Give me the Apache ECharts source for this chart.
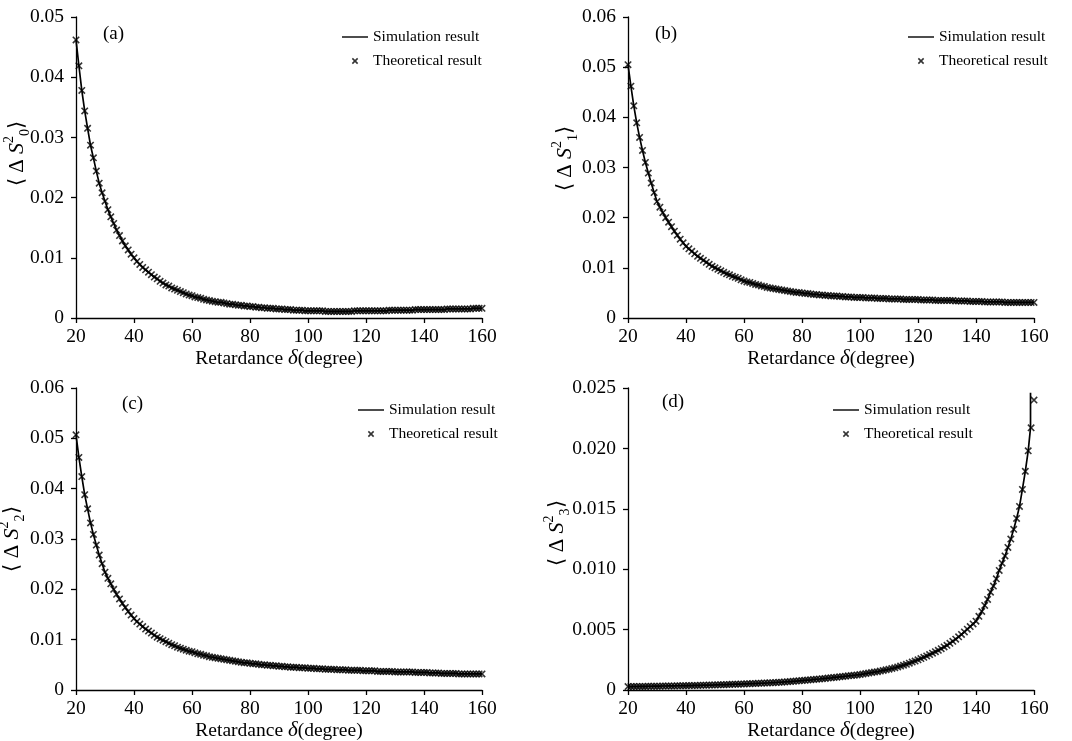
<!DOCTYPE html>
<html>
<head>
<meta charset="utf-8">
<script src="https://cdn.jsdelivr.net/npm/echarts@6/dist/echarts.min.js"></script>
<style>
  html, body { margin: 0; padding: 0; background: #fff; }
  #main { width: 1072px; height: 741px; }
</style>
</head>
<body>
<div id="main"></div>
<script>
// retardance samples (degree)
var delta = [
  20, 21, 22, 23, 24, 25, 26, 27, 28, 29,
  30, 31, 32, 33, 34, 35, 36, 37, 38, 39,
  40, 41, 42, 43, 44, 45, 46, 47, 48, 49,
  50, 51, 52, 53, 54, 55, 56, 57, 58, 59,
  60, 61, 62, 63, 64, 65, 66, 67, 68, 69,
  70, 71, 72, 73, 74, 75, 76, 77, 78, 79,
  80, 81, 82, 83, 84, 85, 86, 87, 88, 89,
  90, 91, 92, 93, 94, 95, 96, 97, 98, 99,
  100, 101, 102, 103, 104, 105, 106, 107, 108, 109,
  110, 111, 112, 113, 114, 115, 116, 117, 118, 119,
  120, 121, 122, 123, 124, 125, 126, 127, 128, 129,
  130, 131, 132, 133, 134, 135, 136, 137, 138, 139,
  140, 141, 142, 143, 144, 145, 146, 147, 148, 149,
  150, 151, 152, 153, 154, 155, 156, 157, 158, 159,
  160
];

// (a) <dS0^2>
var s0 = [
  0.0462, 0.0419, 0.0378, 0.0344, 0.0315, 0.0287, 0.0266, 0.0244, 0.0224, 0.0208,
  0.0194, 0.0180, 0.0168, 0.0157, 0.0146, 0.0137, 0.0128, 0.0120, 0.0113, 0.0106,
  0.0100, 0.0094, 0.0089, 0.0084, 0.0080, 0.0076, 0.0072, 0.0068, 0.0065, 0.0061,
  0.0058, 0.0055, 0.0053, 0.0050, 0.0048, 0.0046, 0.0044, 0.0042, 0.0040, 0.0038,
  0.0037, 0.0035, 0.0034, 0.0033, 0.0031, 0.0030, 0.0029, 0.0028, 0.0027, 0.0026,
  0.0026, 0.0025, 0.0024, 0.0023, 0.0023, 0.0022, 0.0021, 0.0021, 0.0020, 0.0020,
  0.0019, 0.0019, 0.0018, 0.0018, 0.0017, 0.0017, 0.0016, 0.0016, 0.0016, 0.0015,
  0.0015, 0.0015, 0.0014, 0.0014, 0.0014, 0.0013, 0.0013, 0.0013, 0.0013, 0.0012,
  0.0012, 0.0012, 0.0012, 0.0012, 0.0012, 0.0012, 0.0011, 0.0011, 0.0011, 0.0011,
  0.0011, 0.0011, 0.0011, 0.0011, 0.0011, 0.0011, 0.0012, 0.0012, 0.0012, 0.0012,
  0.0012, 0.0012, 0.0012, 0.0012, 0.0012, 0.0012, 0.0012, 0.0012, 0.0013, 0.0013,
  0.0013, 0.0013, 0.0013, 0.0013, 0.0013, 0.0013, 0.0013, 0.0014, 0.0014, 0.0014,
  0.0014, 0.0014, 0.0014, 0.0014, 0.0014, 0.0014, 0.0014, 0.0014, 0.0015, 0.0015,
  0.0015, 0.0015, 0.0015, 0.0015, 0.0015, 0.0015, 0.0015, 0.0016, 0.0016, 0.0016,
  0.0016
];

// (b) <dS1^2>
var s1 = [
  0.0505, 0.0462, 0.0423, 0.0389, 0.0360, 0.0334, 0.0310, 0.0289, 0.0269, 0.0250,
  0.0232, 0.0221, 0.0210, 0.0200, 0.0191, 0.0182, 0.0173, 0.0165, 0.0157, 0.0150,
  0.0143, 0.0138, 0.0133, 0.0128, 0.0123, 0.0119, 0.0115, 0.0111, 0.0107, 0.0103,
  0.0100, 0.0097, 0.0094, 0.0091, 0.0088, 0.0086, 0.0083, 0.0081, 0.0079, 0.0076,
  0.0074, 0.0072, 0.0071, 0.0069, 0.0067, 0.0066, 0.0064, 0.0063, 0.0061, 0.0060,
  0.0059, 0.0058, 0.0057, 0.0056, 0.0055, 0.0054, 0.0053, 0.0052, 0.0051, 0.0051,
  0.0050, 0.0049, 0.0049, 0.0048, 0.0047, 0.0047, 0.0046, 0.0046, 0.0045, 0.0045,
  0.0044, 0.0044, 0.0044, 0.0043, 0.0043, 0.0042, 0.0042, 0.0042, 0.0041, 0.0041,
  0.0041, 0.0041, 0.0040, 0.0040, 0.0040, 0.0040, 0.0039, 0.0039, 0.0039, 0.0039,
  0.0038, 0.0038, 0.0038, 0.0038, 0.0038, 0.0037, 0.0037, 0.0037, 0.0037, 0.0037,
  0.0037, 0.0036, 0.0036, 0.0036, 0.0036, 0.0036, 0.0035, 0.0035, 0.0035, 0.0035,
  0.0035, 0.0035, 0.0035, 0.0034, 0.0034, 0.0034, 0.0034, 0.0034, 0.0033, 0.0033,
  0.0033, 0.0033, 0.0033, 0.0032, 0.0032, 0.0032, 0.0032, 0.0032, 0.0032, 0.0032,
  0.0031, 0.0031, 0.0031, 0.0031, 0.0031, 0.0031, 0.0031, 0.0031, 0.0031, 0.0031,
  0.0031
];

// (c) <dS2^2>
var s2 = [
  0.0507, 0.0462, 0.0424, 0.0388, 0.0360, 0.0332, 0.0309, 0.0288, 0.0268, 0.0251,
  0.0234, 0.0222, 0.0211, 0.0200, 0.0190, 0.0181, 0.0172, 0.0164, 0.0156, 0.0149,
  0.0142, 0.0136, 0.0131, 0.0126, 0.0121, 0.0117, 0.0113, 0.0109, 0.0105, 0.0102,
  0.0099, 0.0096, 0.0093, 0.0090, 0.0088, 0.0085, 0.0083, 0.0081, 0.0079, 0.0077,
  0.0076, 0.0074, 0.0072, 0.0071, 0.0069, 0.0068, 0.0066, 0.0065, 0.0064, 0.0063,
  0.0062, 0.0061, 0.0060, 0.0059, 0.0058, 0.0057, 0.0056, 0.0055, 0.0054, 0.0054,
  0.0053, 0.0052, 0.0052, 0.0051, 0.0050, 0.0050, 0.0049, 0.0049, 0.0048, 0.0048,
  0.0047, 0.0047, 0.0046, 0.0046, 0.0045, 0.0045, 0.0045, 0.0044, 0.0044, 0.0044,
  0.0043, 0.0043, 0.0043, 0.0042, 0.0042, 0.0042, 0.0041, 0.0041, 0.0041, 0.0041,
  0.0040, 0.0040, 0.0040, 0.0040, 0.0039, 0.0039, 0.0039, 0.0039, 0.0039, 0.0038,
  0.0038, 0.0038, 0.0038, 0.0038, 0.0037, 0.0037, 0.0037, 0.0037, 0.0037, 0.0037,
  0.0036, 0.0036, 0.0036, 0.0036, 0.0036, 0.0036, 0.0036, 0.0035, 0.0035, 0.0035,
  0.0035, 0.0035, 0.0034, 0.0034, 0.0034, 0.0034, 0.0033, 0.0033, 0.0033, 0.0033,
  0.0033, 0.0033, 0.0032, 0.0032, 0.0032, 0.0032, 0.0032, 0.0032, 0.0032, 0.0032,
  0.0032
];

// (d) <dS3^2>
var s3 = [
  0.00028, 0.00028, 0.00029, 0.00029, 0.00030, 0.00030, 0.00030, 0.00031, 0.00031, 0.00032,
  0.00032, 0.00032, 0.00033, 0.00033, 0.00034, 0.00034, 0.00034, 0.00035, 0.00035, 0.00036,
  0.00036, 0.00037, 0.00037, 0.00038, 0.00038, 0.00039, 0.00040, 0.00040, 0.00041, 0.00041,
  0.00042, 0.00043, 0.00044, 0.00044, 0.00045, 0.00046, 0.00047, 0.00048, 0.00048, 0.00049,
  0.00050, 0.00051, 0.00052, 0.00053, 0.00054, 0.00055, 0.00056, 0.00057, 0.00058, 0.00060,
  0.00061, 0.00062, 0.00064, 0.00065, 0.00067, 0.00069, 0.00070, 0.00072, 0.00074, 0.00076,
  0.00078, 0.00080, 0.00082, 0.00084, 0.00087, 0.00089, 0.00091, 0.00094, 0.00096, 0.00099,
  0.00101, 0.00104, 0.00106, 0.00109, 0.00111, 0.00114, 0.00117, 0.00119, 0.00122, 0.00125,
  0.00128, 0.00132, 0.00136, 0.00140, 0.00144, 0.00148, 0.00152, 0.00157, 0.00162, 0.00167,
  0.00172, 0.00178, 0.00184, 0.00191, 0.00198, 0.00205, 0.00213, 0.00222, 0.00231, 0.00240,
  0.00250, 0.00260, 0.00271, 0.00282, 0.00293, 0.00305, 0.00317, 0.00329, 0.00342, 0.00356,
  0.00370, 0.00386, 0.00403, 0.00421, 0.00440, 0.00460, 0.00481, 0.00503, 0.00525, 0.00547,
  0.00570, 0.00610, 0.00650, 0.00700, 0.00750, 0.00810, 0.00860, 0.00920, 0.00990, 0.01050,
  0.01110, 0.01180, 0.01250, 0.01330, 0.01420, 0.01520, 0.01660, 0.01810, 0.01980, 0.02170,
  0.02400
];

// simulated curve in (d) stops at 158 and then jumps up
var s3SimEnd = 158;
var s3TailX = [158.8, 158.8];
var s3TailY = [0.0217, 0.0246];

var panelLabels = ['(a)', '(b)', '(c)', '(d)'];
var subIdx = ['0', '1', '2', '3'];
var yMax = [0.05, 0.06, 0.06, 0.025];
var yStep = [0.01, 0.01, 0.01, 0.005];
var yDigits = [2, 2, 2, 3];

var font = 'Liberation Serif, Times New Roman, serif';
var xMark = 'path://M0,0.9L0.9,0L6,5.1L5.1,6ZM5.1,0L6,0.9L0.9,6L0,5.1Z';
var legendLine = 'path://M0,0M26,12M0,5.3H26V6.7H0Z';
var legendX = 'path://M0,0M26,12M9.8,3.9L10.9,2.8L16.2,8.1L15.1,9.2ZM15.1,2.8L16.2,3.9L10.9,9.2L9.8,8.1Z';

function pairs(xs, ys, upTo) {
  var out = [];
  for (var i = 0; i < xs.length; i++) {
    if (upTo != null && xs[i] > upTo) break;
    out.push([xs[i], ys[i]]);
  }
  return out;
}

var grids = [
  { left: 76, top: 17, width: 406, height: 301, outerBoundsMode: 'none' },
  { left: 628, top: 17, width: 406, height: 301, outerBoundsMode: 'none' },
  { left: 76, top: 388, width: 406, height: 302, outerBoundsMode: 'none' },
  { left: 628, top: 388, width: 406, height: 302, outerBoundsMode: 'none' }
];
var labelPos = [[98, 20], [650, 20], [117, 390], [657, 388]];
var legendPos = [[337, 24], [903, 24], [353, 397], [828, 397]];
var yNameGap = [44, 48, 49, 56];
// shifts the rotated y name upwards (reference names sit a bit above centre)
var yNameShift = [28, 18, 0, 12];

var values = [s0, s1, s2, s3];

var option = {
  backgroundColor: '#fff',
  animation: false,
  title: [],
  legend: [],
  grid: grids,
  xAxis: [],
  yAxis: [],
  series: []
};

for (var k = 0; k < 4; k++) {
  option.title.push({
    text: panelLabels[k],
    left: labelPos[k][0],
    top: labelPos[k][1],
    textStyle: { fontFamily: font, fontSize: 19, fontWeight: 'normal', color: '#000' }
  });
  option.legend.push({
    left: legendPos[k][0],
    top: legendPos[k][1],
    orient: 'vertical',
    itemWidth: 26,
    itemHeight: 12,
    itemGap: 8,
    selectedMode: false,
    textStyle: { fontFamily: font, fontSize: 15.5, color: '#000' },
    data: [
      { name: 'Simulation result', icon: legendLine, itemStyle: { color: '#000' } },
      { name: 'Theoretical result', icon: legendX, itemStyle: { color: '#000' } }
    ]
  });
  option.xAxis.push({
    type: 'value',
    gridIndex: k,
    min: 20,
    max: 160,
    interval: 20,
    name: 'Retardance {i|δ}(degree)',
    nameLocation: 'middle',
    nameGap: 29,
    nameTextStyle: {
      fontFamily: font, fontSize: 19.5, color: '#000',
      rich: { i: { fontFamily: font, fontSize: 21, fontStyle: 'italic', color: '#000' } }
    },
    splitLine: { show: false },
    axisLine: { lineStyle: { color: '#000', width: 1.3 } },
    axisTick: { inside: false, length: 5, lineStyle: { color: '#000', width: 1.3 } },
    axisLabel: { fontFamily: font, fontSize: 19.5, color: '#000', margin: 9 }
  });
  option.yAxis.push({
    type: 'value',
    gridIndex: k,
    min: 0,
    max: yMax[k],
    interval: yStep[k],
    name: '⟨ Δ {i|S}{sup|2}{sub|' + subIdx[k] + '}⟩',
    nameLocation: 'middle',
    nameGap: yNameGap[k],
    nameMoveOverlap: false,
    nameTextStyle: {
      fontFamily: font, fontSize: 21, color: '#000', lineHeight: 30,
      padding: [0, 0, 0, yNameShift[k]],
      rich: {
        i: { fontFamily: font, fontSize: 22, fontStyle: 'italic', color: '#000', lineHeight: 30 },
        sup: { fontFamily: font, fontSize: 14, color: '#000', verticalAlign: 'top', lineHeight: 14 },
        sub: { fontFamily: font, fontSize: 14, color: '#000', verticalAlign: 'bottom', lineHeight: 14 }
      }
    },
    splitLine: { show: false },
    axisLine: { show: true, lineStyle: { color: '#000', width: 1.3 } },
    axisTick: { show: true, inside: false, length: 5, lineStyle: { color: '#000', width: 1.3 } },
    axisLabel: {
      fontFamily: font, fontSize: 19.5, color: '#000', margin: 12,
      formatter: (function (d) {
        return function (v) { return v === 0 ? '0' : v.toFixed(d); };
      })(yDigits[k])
    }
  });

  var simData = k === 3
    ? pairs(delta, values[k], s3SimEnd).concat(pairs(s3TailX, s3TailY))
    : pairs(delta, values[k]);

  option.series.push({
    name: 'Simulation result',
    type: 'line',
    xAxisIndex: k,
    yAxisIndex: k,
    data: simData,
    showSymbol: false,
    symbol: 'none',
    lineStyle: { color: '#000', width: 1.7 },
    itemStyle: { color: '#000' },
    z: 2
  });
  option.series.push({
    name: 'Theoretical result',
    type: 'scatter',
    xAxisIndex: k,
    yAxisIndex: k,
    data: pairs(delta, values[k]),
    symbol: xMark,
    symbolSize: 7.5,
    itemStyle: { color: '#000' },
    z: 3
  });
}

var chart = echarts.init(document.getElementById('main'), null, { renderer: 'canvas' });
chart.setOption(option);
</script>
</body>
</html>
